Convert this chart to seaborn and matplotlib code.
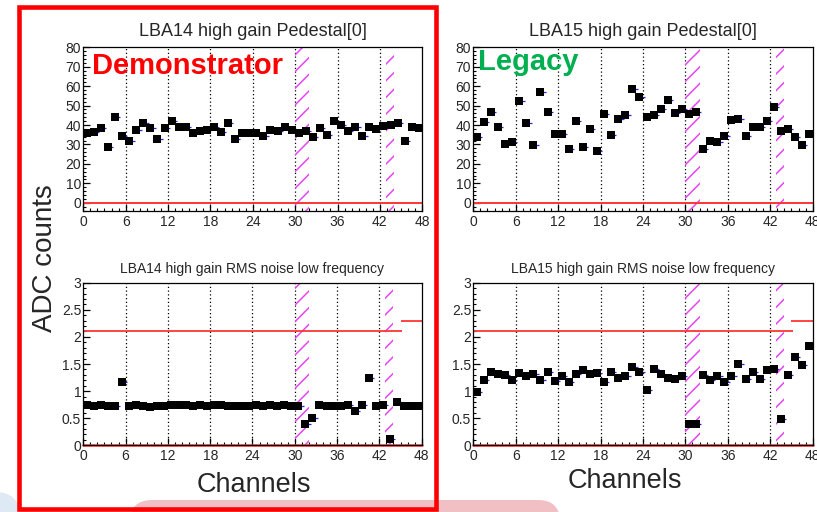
import numpy as np
import pandas as pd
import seaborn as sns
import matplotlib
matplotlib.use("Agg")
import matplotlib.pyplot as plt
from matplotlib.ticker import MultipleLocator, FuncFormatter
from matplotlib.patches import Rectangle, FancyBboxPatch

# ---------------- data ----------------
channels = list(range(48))

demo_pedestal = [35.7, 36.4, 38.3, 28.5, 44.0, 34.3, 31.8, 37.4, 40.9, 38.3,
                 33.0, 38.3, 42.0, 38.8, 38.8, 35.7, 37.0, 37.4, 38.8, 36.4,
                 40.9, 33.0, 35.7, 35.7, 35.7, 34.3, 37.4, 37.0, 38.8, 37.4,
                 35.7, 37.0, 33.6, 38.3, 35.0, 42.0, 40.2, 37.0, 38.8, 34.3,
                 38.8, 37.8, 39.5, 40.2, 40.9, 31.8, 38.8, 38.3]

legacy_pedestal = [33.6, 41.5, 46.5, 38.8, 30.4, 31.2, 52.4, 40.9, 29.9, 56.8,
                   46.5, 35.5, 35.5, 27.5, 42.0, 28.5, 38.1, 26.8, 45.8, 35.0,
                   43.3, 45.2, 58.7, 54.2, 44.0, 45.2, 48.4, 52.7, 46.4, 48.4,
                   45.8, 46.9, 27.8, 31.9, 31.1, 34.3, 42.6, 43.3, 34.3, 38.8,
                   38.8, 41.9, 49.1, 36.9, 38.1, 33.6, 29.9, 35.5]

demo_rms = [0.74, 0.73, 0.74, 0.73, 0.73, 1.16, 0.73, 0.74, 0.73, 0.70,
            0.73, 0.73, 0.74, 0.74, 0.74, 0.73, 0.74, 0.73, 0.74, 0.74,
            0.73, 0.73, 0.73, 0.73, 0.74, 0.73, 0.74, 0.73, 0.74, 0.73,
            0.73, 0.39, 0.51, 0.74, 0.73, 0.73, 0.73, 0.74, 0.64, 0.74,
            1.25, 0.73, 0.74, 0.11, 0.80, 0.73, 0.73, 0.73]

legacy_rms = [0.98, 1.20, 1.36, 1.32, 1.29, 1.20, 1.34, 1.27, 1.32, 1.20,
              1.36, 1.18, 1.27, 1.16, 1.32, 1.39, 1.32, 1.34, 1.16, 1.36,
              1.24, 1.27, 1.45, 1.36, 1.02, 1.40, 1.32, 1.24, 1.22, 1.27,
              0.39, 0.39, 1.29, 1.20, 1.27, 1.16, 1.27, 1.50, 1.23, 1.36,
              1.23, 1.39, 1.40, 0.49, 1.29, 1.63, 1.48, 1.84]

titles = ["LBA14 high gain Pedestal[0]", "LBA15 high gain Pedestal[0]",
          "LBA14 high gain RMS noise low frequency",
          "LBA15 high gain RMS noise low frequency"]
x_ticks = [0, 6, 12, 18, 24, 30, 36, 42, 48]
grid_x = [6, 12, 18, 24, 30, 36, 42]
masked_ranges = [(30.0, 32.0), (42.85, 44.0)]
rms_limit_lo = 2.1
rms_limit_hi = 2.3

# ---------------- style ----------------
sns.set_style("ticks")
plt.rcParams['font.family'] = ['Liberation Sans', 'DejaVu Sans']
plt.rcParams['hatch.linewidth'] = 1.1

W, H = 817, 512
fig = plt.figure(figsize=(W / 100, H / 100), dpi=100)
fig.patch.set_facecolor('white')


def add_ax(l, r, t, b):
    return fig.add_axes([l / W, 1 - b / H, (r - l) / W, (b - t) / H])


ax_tl = add_ax(83.3, 422.3, 47.3, 210.9)
ax_tr = add_ax(473.3, 812.7, 47.3, 210.9)
ax_bl = add_ax(83.3, 421.7, 282.7, 445.3)
ax_br = add_ax(473.3, 812.7, 282.7, 445.3)

red = '#ff3535'
magenta = '#e546f0'


def style_axis(ax, ylim, ymaj, ymin):
    ax.set_xlim(0, 48)
    ax.set_ylim(*ylim)
    ax.set_xticks(x_ticks)
    ax.xaxis.set_minor_locator(MultipleLocator(1))
    ax.yaxis.set_major_locator(MultipleLocator(ymaj))
    ax.yaxis.set_minor_locator(MultipleLocator(ymin))
    ax.yaxis.set_major_formatter(FuncFormatter(lambda v, p: '%g' % v))
    ax.tick_params(axis='both', which='major', direction='in', length=5,
                   width=0.9, labelsize=10, color='black')
    ax.tick_params(axis='both', which='minor', direction='in', length=2.5,
                   width=0.8, color='black')
    ax.tick_params(axis='y', which='both', pad=1.5)
    ax.tick_params(axis='x', which='both', pad=3)
    for s in ax.spines.values():
        s.set_visible(True)
        s.set_linewidth(0.9)
        s.set_color('black')
    for gx in grid_x:
        ax.axvline(gx, color='black', linestyle=(0, (1, 2)), linewidth=0.9,
                   zorder=1)
    for (a, b) in masked_ranges:
        ax.axvspan(a, b, facecolor='none', edgecolor=magenta, hatch='//',
                   linewidth=0, zorder=1.5)
    ax.set_xlabel('')
    ax.set_ylabel('')


def draw_points(ax, values):
    xs = np.array(channels) + 0.5
    ax.errorbar(xs, values, xerr=[np.zeros(len(xs)), np.full(len(xs), 0.75)],
                fmt='none', ecolor='#2b2bd6', elinewidth=0.9, zorder=2)
    df = pd.DataFrame({'x': xs, 'y': values})
    sns.scatterplot(data=df, x='x', y='y', ax=ax, marker='s', color='black',
                    s=36, linewidth=0, zorder=3, legend=False)


for ax, vals, title in [(ax_tl, demo_pedestal, titles[0]),
                        (ax_tr, legacy_pedestal, titles[1])]:
    draw_points(ax, vals)
    ax.axhline(0, color=red, linewidth=1.4, zorder=2.5)
    style_axis(ax, (-4.2, 80), 10, 2)
    ax.set_title(title, fontsize=13, pad=8)

for ax, vals, title in [(ax_bl, demo_rms, titles[2]),
                        (ax_br, legacy_rms, titles[3])]:
    draw_points(ax, vals)
    ax.hlines(rms_limit_lo, 0, 45.2, color=red, linewidth=1.3, zorder=2.5)
    ax.hlines(rms_limit_hi, 45.0, 48, color=red, linewidth=1.3, zorder=2.5)
    ax.axhline(0, color=red, linewidth=1.8, zorder=2.5, clip_on=False)
    style_axis(ax, (0, 3), 0.5, 0.1)
    ax.set_title(title, fontsize=10, pad=7)

# slide texts
fig.text(92 / W, 1 - 66 / H, 'Demonstrator', color='#ff0000', fontsize=21,
         fontweight='bold', ha='left', va='center')
fig.text(478 / W, 1 - 62 / H, 'Legacy', color='#00b050', fontsize=21,
         fontweight='bold', ha='left', va='center')
fig.text(45 / W, 1 - 258 / H, 'ADC counts', fontsize=20, rotation=90,
         ha='center', va='center')
fig.text(254 / W, 1 - 485 / H, 'Channels', fontsize=19.5, ha='center',
         va='center')
fig.text(625 / W, 1 - 481 / H, 'Channels', fontsize=19.5, ha='center',
         va='center')

# slide background decorations
pink = FancyBboxPatch((1.30, -0.35), 4.30, 0.47,
                      boxstyle='round,pad=0,rounding_size=0.22',
                      transform=fig.dpi_scale_trans, facecolor='#f0c0c4',
                      edgecolor='none', zorder=-5)
fig.patches.append(pink)
blue = FancyBboxPatch((-0.3, -0.3), 0.5, 0.5,
                      boxstyle='round,pad=0,rounding_size=0.25',
                      transform=fig.dpi_scale_trans, facecolor='#dfe9f6',
                      edgecolor='none', zorder=-5)
fig.patches.append(blue)
frame = Rectangle((18.5 / 100, (H - 509) / 100), (436 - 18.5) / 100,
                  (509 - 7) / 100, transform=fig.dpi_scale_trans,
                  facecolor='none', edgecolor='#ff0000', linewidth=3.3,
                  zorder=10)
fig.patches.append(frame)

fig.savefig('out.png', dpi=100)
